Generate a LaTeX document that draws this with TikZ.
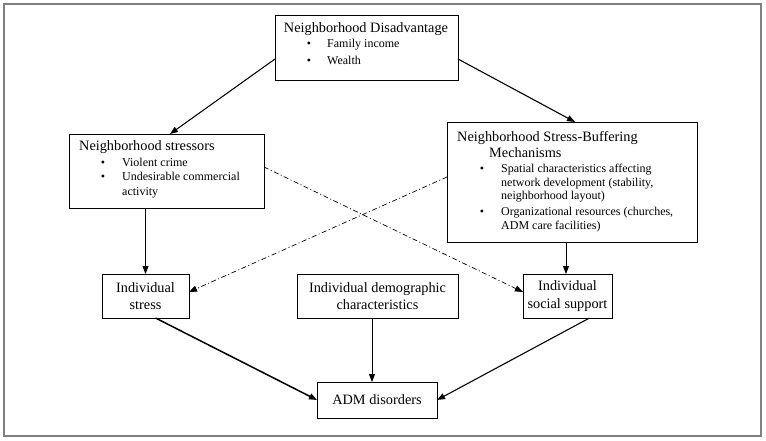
\documentclass[tikz,border=0pt]{standalone}
\usepackage{fontspec}
\setmainfont{Liberation Serif}
\usetikzlibrary{arrows.meta}
\begin{document}
\begin{tikzpicture}[x=1pt,y=-1pt,
 box/.style={draw,line width=0.9pt,inner sep=0pt,outer sep=0pt,align=center,font=\fontsize{14.3}{17.5}\selectfont},
 ttl/.style={font=\fontsize{14.3}{17}\selectfont,inner sep=0pt},
 itm/.style={font=\fontsize{12}{14}\selectfont,inner sep=0pt,anchor=base west},
 bul/.style={font=\fontsize{12}{14}\selectfont,inner sep=0pt,anchor=base},
 arr/.style={line width=0.9pt,-{Triangle[length=8pt,width=6pt]}},
 dd/.style={arr,line width=0.7pt,dash pattern=on 5pt off 2.5pt on 1pt off 2.5pt},
]
\useasboundingbox (0,0) rectangle (766,441);
\draw[line width=1.3pt,gray] (4,4) rectangle (761,436);

% boxes
\node[box,minimum width=183pt,minimum height=65pt] (top) at (366.5,47.5) {};
\node[box,minimum width=195pt,minimum height=74pt] (lbox) at (166.5,171) {};
\node[box,minimum width=250pt,minimum height=120pt] (rbox) at (572,182) {};
\node[box,minimum width=87pt,minimum height=44pt] (stress) at (145.5,296) {Individual\\stress};
\node[box,minimum width=161pt,minimum height=44pt] (demo) at (377.5,296) {Individual demographic\\characteristics};
\node[box,minimum width=89pt,minimum height=44pt] (social) at (567.5,296) {Individual\\social support};
\node[box,minimum width=120pt,minimum height=36pt] (adm) at (377,400) {ADM disorders};

% top box text
\node[ttl,anchor=base] (t0) at (366,33) {Neighborhood Disadvantage};
\node[bul] (tb1) at (309,48) {\textbullet};
\node[itm] (t1) at (327,48) {Family income};
\node[bul] (tb2) at (309,65) {\textbullet};
\node[itm] (t2) at (327,65) {Wealth};

% left box text
\node[ttl,anchor=base west] (l0) at (79,151) {Neighborhood stressors};
\node[bul] (lb1) at (103,167) {\textbullet};
\node[itm] (l1) at (122,167) {Violent crime};
\node[bul] (lb2) at (103,181) {\textbullet};
\node[itm] (l2) at (122,181) {Undesirable commercial};
\node[itm] (l3) at (122,195) {activity};

% right box text
\node[ttl,anchor=base west] (r0) at (457,142) {Neighborhood Stress-Buffering};
\node[ttl,anchor=base west] (r0b) at (489,158) {Mechanisms};
\node[bul] (rb1) at (482,172) {\textbullet};
\node[itm] (r1) at (501,172) {Spatial characteristics affecting};
\node[itm] (r2) at (501,186) {network development (stability,};
\node[itm] (r3) at (501,200) {neighborhood layout)};
\node[bul] (rb2) at (482,215) {\textbullet};
\node[itm] (r4) at (501,215) {Organizational resources (churches,};
\node[itm] (r5) at (501,229) {ADM care facilities)};

% connectors
\draw[arr,line width=1.1pt] ([yshift=21pt]top.south west) -- ([xshift=3.5pt]lbox.north);
\draw[arr,line width=1.1pt] ([yshift=21pt]top.south east) -- ([xshift=3pt]rbox.north);
\draw[arr] (stress.north |- lbox.south) -- (stress.north);
\draw[arr] ([xshift=-1.5pt]social.north |- rbox.south) -- ([xshift=-1.5pt]social.north);
\draw[dd] ([yshift=4pt]lbox.east) -- ([yshift=4pt]social.west);
\draw[dd] ([yshift=5pt]rbox.west) -- ([yshift=4pt]stress.east);
\draw[arr,line width=1.5pt] ([xshift=10pt]stress.south) -- (adm.west);
\draw[arr] ([xshift=-5pt]adm.north |- demo.south) -- ([xshift=-5pt]adm.north);
\draw[arr,line width=1.1pt] ([xshift=22pt]social.south) -- (adm.east);
\end{tikzpicture}
\end{document}
